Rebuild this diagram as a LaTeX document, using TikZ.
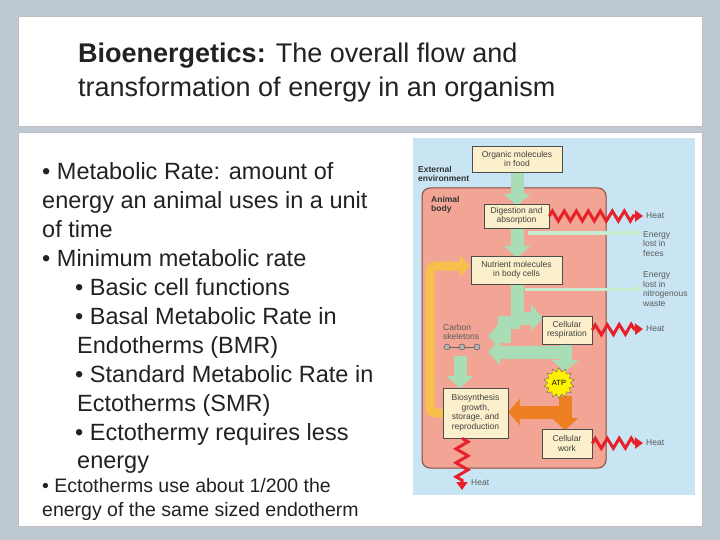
\documentclass[tikz,border=0pt]{standalone}
\usepackage{fontspec}
\setmainfont{Liberation Sans}
\usetikzlibrary{arrows.meta,decorations.pathmorphing,shapes.geometric}
\definecolor{bgout}{HTML}{BFC9D3}
\definecolor{panel}{HTML}{C9E5F3}
\definecolor{bodyc}{HTML}{F2A595}
\definecolor{bodyb}{HTML}{8A4A3A}
\definecolor{boxc}{HTML}{FCEFCB}
\definecolor{grn}{HTML}{A8DDB5}
\definecolor{lgrn}{HTML}{C8EBCF}
\definecolor{org}{HTML}{EE7E22}
\definecolor{yel}{HTML}{F7C04A}
\definecolor{hred}{HTML}{E8202A}
\definecolor{txt}{HTML}{222222}
\begin{document}
\begin{tikzpicture}[x=1pt,y=-1pt,
  bx/.style={draw=black!70,fill=boxc,line width=0.6pt,align=center,font=\fontsize{8.5}{9.5}\selectfont,text=black!75,inner sep=1pt},
  lbl/.style={align=left,font=\fontsize{8.5}{9.5}\selectfont,text=black!65,anchor=west,inner sep=0pt},
  big/.style={anchor=base west,font=\fontsize{23.5}{26}\selectfont,text=txt,inner sep=0pt},
  small/.style={anchor=base west,font=\fontsize{19.5}{22}\selectfont,text=txt,inner sep=0pt},
  ttl/.style={anchor=base west,inner sep=0pt,font=\fontsize{27}{30}\selectfont,text=txt},
  garr/.style={draw=grn,line width=13pt,-{Triangle[length=12pt,width=26pt]}},
  tarr/.style={draw=lgrn,line width=3pt,-{Triangle[length=6pt,width=9pt]}},
  heat/.style={draw=hred,line width=3pt,decorate,decoration={zigzag,amplitude=5pt,segment length=12pt,post length=8pt},-{Triangle[length=8pt,width=11pt]}}]
\useasboundingbox (0,0) rectangle (720,540);
\fill[bgout] (0,0) rectangle (720,540);
\fill[white] (18,16) rectangle (702,126);
\fill[white] (18,132) rectangle (702,526);
\draw[gray!50] (18,16) rectangle (702,126) (18,132) rectangle (702,526);
% title
\node[ttl] (t1) at (78,63) {\textbf{Bioenergetics:} The overall flow and};
\node[ttl] (t2) at (78,97) {transformation of energy in an organism};
% left text
\node[big] (l1) at (42,180) {• Metabolic Rate: amount of};
\node[big] (l2) at (42,208) {energy an animal uses in a unit};
\node[big] (l3) at (42,237) {of time};
\node[big] (l4) at (42,266) {• Minimum metabolic rate};
\node[big] (l5) at (75,295) {• Basic cell functions};
\node[big] (l6) at (75,324) {• Basal Metabolic Rate in};
\node[big] (l7) at (77,353) {Endotherms (BMR)};
\node[big] (l8) at (75,382) {• Standard Metabolic Rate in};
\node[big] (l9) at (77,411) {Ectotherms (SMR)};
\node[big] (l10) at (75,440) {• Ectothermy requires less};
\node[big] (l11) at (77,468) {energy};
\node[small] (s1) at (42,492) {• Ectotherms use about 1/200 the};
\node[small] (s2) at (42,516) {energy of the same sized endotherm};
% diagram
\fill[panel] (413,138) rectangle (695,495);
\draw[bodyb,fill=bodyc,line width=1pt,rounded corners=8pt] (422,188) rectangle (606,468);
\node[lbl,font=\bfseries\fontsize{8.5}{9.5}\selectfont,text=black!80] (ext) at (418,174) {External\\environment};
\node[lbl,font=\bfseries\fontsize{8.5}{9.5}\selectfont,text=black!80] (ab) at (431,205) {Animal\\body};
% arrows (behind boxes)
\draw[garr] (517,170) -- (517,206);
\draw[garr] (517,226) -- (517,258);
\draw[tarr] (528,233) -- (642,233);
\draw[tarr] (525,289) -- (642,289);
\draw[draw=grn,line width=13pt] (517,282) -- (517,325);
\draw[garr] (514,318) -- (543,318) ;
\draw[garr] (520,322) -- (504,322) -- (504,336) -- (488,336);
\draw[garr] (565,342) -- (565,352) -- (488,352);
\draw[garr] (565,342) -- (565,372);
\draw[garr] (460,356) -- (460,388);
\draw[draw=org,line width=13pt,-{Triangle[length=12pt,width=26pt]}] (565,396) -- (565,430);
\draw[draw=org,line width=13pt,-{Triangle[length=12pt,width=26pt]}] (570,412) -- (508,412);
\draw[draw=yel,line width=9pt,rounded corners=5pt,-{Triangle[length=10pt,width=20pt]}] (445,413) -- (430,413) -- (430,266) -- (470,266);
% boxes
\node[bx,minimum width=90pt,minimum height=26pt] (org) at (517,159) {Organic molecules\\in food};
\node[bx,minimum width=65pt,minimum height=24pt] (dig) at (516.5,216) {Digestion and\\absorption};
\node[bx,minimum width=91pt,minimum height=28pt] (nut) at (516.5,270) {Nutrient molecules\\in body cells};
\node[bx,minimum width=50pt,minimum height=28pt] (res) at (567,330) {Cellular\\respiration};
\node[bx,minimum width=65pt,minimum height=50pt] (bio) at (475.5,413) {Biosynthesis\\growth,\\storage, and\\reproduction};
\node[bx,minimum width=50pt,minimum height=29pt] (work) at (567,443.5) {Cellular\\work};
\node[star,star points=14,star point ratio=1.35,draw=black!60,fill=yellow,inner sep=1pt,minimum size=28pt,font=\fontsize{7.5}{8}\selectfont] (atp) at (559,383) {ATP};
% carbon skeletons
\node[lbl] (cs) at (443,332) {Carbon\\skeletons};
\draw[black!60,line width=0.8pt] (447,347) -- (477,347);
\foreach \x/\n in {447/b1,462/b2,477/b3}
  \node[circle,draw=black!70,fill=gray!60,minimum size=6pt,inner sep=0pt] (\n) at (\x,347) {};
% heat
\coordinate (h1) at (643,216);
\coordinate (h2) at (643,329);
\coordinate (h3) at (643,443);
\coordinate (h4) at (462,490);
\draw[heat] (dig.east) -- (h1);
\draw[heat] (res.east) -- (h2);
\draw[heat] (work.east) -- (h3);
\draw[heat,decoration={zigzag,amplitude=6pt,segment length=14pt,post length=6pt}] (bio.south -| h4) -- (h4);
\node[lbl] (hl1) at (646,216) {Heat};
\node[lbl] (hl2) at (646,329) {Heat};
\node[lbl] (hl3) at (646,443) {Heat};
\node[lbl] (hl4) at (471,483) {Heat};
\node[lbl] (fe) at (643,244) {Energy\\lost in\\feces};
\node[lbl] (nw) at (643,289) {Energy\\lost in\\nitrogenous\\waste};
\end{tikzpicture}
\end{document}
